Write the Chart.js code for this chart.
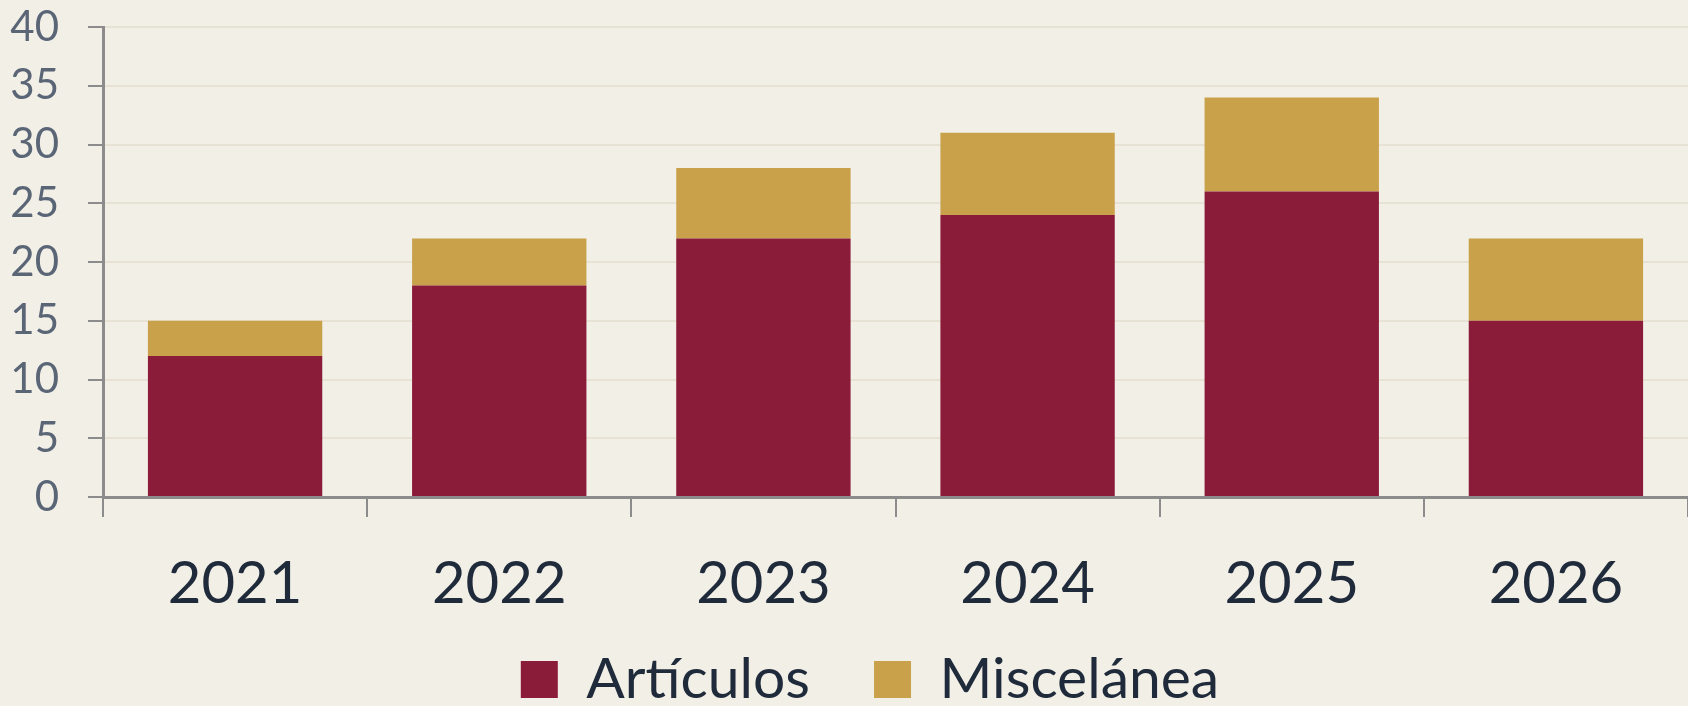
<!DOCTYPE html>
<html>
<head>
<meta charset="utf-8">
<script src="https://cdn.jsdelivr.net/npm/chart.js@4/dist/chart.umd.min.js"></script>
<style>
  html, body { margin: 0; padding: 0; background: #f2efe7; }
  .wrap { width: 1688px; height: 706px; position: relative; }
</style>
</head>
<body>
<div class="wrap"><canvas id="chart"></canvas></div>
<script>
const years = ["2021", "2022", "2023", "2024", "2025", "2026"];
const articulos = [12, 18, 22, 24, 26, 15];
const miscelanea = [3, 4, 6, 7, 8, 7];

const AXIS_GREY = "#8c8c8c";
const GRID_BEIGE = "#e8e2d5";
const LEGEND_PAD = 64;
const LEGEND_ITEM_TOP = 651;
const LEGEND_NUDGE_X = 26;

// the legend uses one padding for item spacing and for its top gap,
// so after layout move its top up to where the items should start
const legendShift = {
  id: "legendShift",
  afterLayout(chart) {
    const lg = chart.legend;
    lg.top = LEGEND_ITEM_TOP - LEGEND_PAD;
    lg.height = lg.bottom - lg.top;
    lg.left += LEGEND_NUDGE_X;
    lg.right += LEGEND_NUDGE_X;
  },
};

const ctx = document.getElementById("chart").getContext("2d");
new Chart(ctx, {
  type: "bar",
  data: {
    labels: years,
    datasets: [
      {
        label: "Artículos",
        data: articulos,
        backgroundColor: "#8a1c3a",
        categoryPercentage: 1,
        barPercentage: 0.66,
      },
      {
        label: "Miscelánea",
        data: miscelanea,
        backgroundColor: "#c9a14a",
        categoryPercentage: 1,
        barPercentage: 0.66,
      },
    ],
  },
  options: {
    responsive: true,
    maintainAspectRatio: false,
    animation: false,
    layout: { padding: { top: 27, right: 0, left: 0, bottom: 0 } },
    scales: {
      x: {
        stacked: true,
        grid: {
          offset: true,
          drawOnChartArea: false,
          color: AXIS_GREY,
          lineWidth: 2,
          tickLength: 20,
        },
        border: { color: AXIS_GREY, width: 3 },
        ticks: {
          color: "#1f2a3a",
          font: { family: "Lato", size: 58, lineHeight: 1 },
          padding: 38,
        },
        afterFit: (scale) => { scale.height = 116; },
      },
      y: {
        stacked: true,
        min: 0,
        max: 40,
        grid: {
          color: GRID_BEIGE,
          lineWidth: 2,
          tickColor: AXIS_GREY,
          tickLength: 15,
        },
        border: { color: AXIS_GREY, width: 3 },
        ticks: {
          stepSize: 5,
          autoSkip: false,
          color: "#5a6576",
          font: { family: "Lato", size: 42 },
          padding: 29,
        },
        afterFit: (scale) => {
          scale.width = 103;
          scale.paddingTop = 0;
          scale.paddingBottom = 0;
        },
      },
    },
    plugins: {
      legend: {
        position: "bottom",
        maxHeight: 93,
        labels: {
          color: "#1f2a3a",
          font: { family: "Lato", size: 57 },
          boxWidth: 37,
          boxHeight: 37,
          padding: LEGEND_PAD,
        },
      },
      tooltip: { enabled: false },
    },
  },
  plugins: [legendShift],
});
</script>
</body>
</html>
